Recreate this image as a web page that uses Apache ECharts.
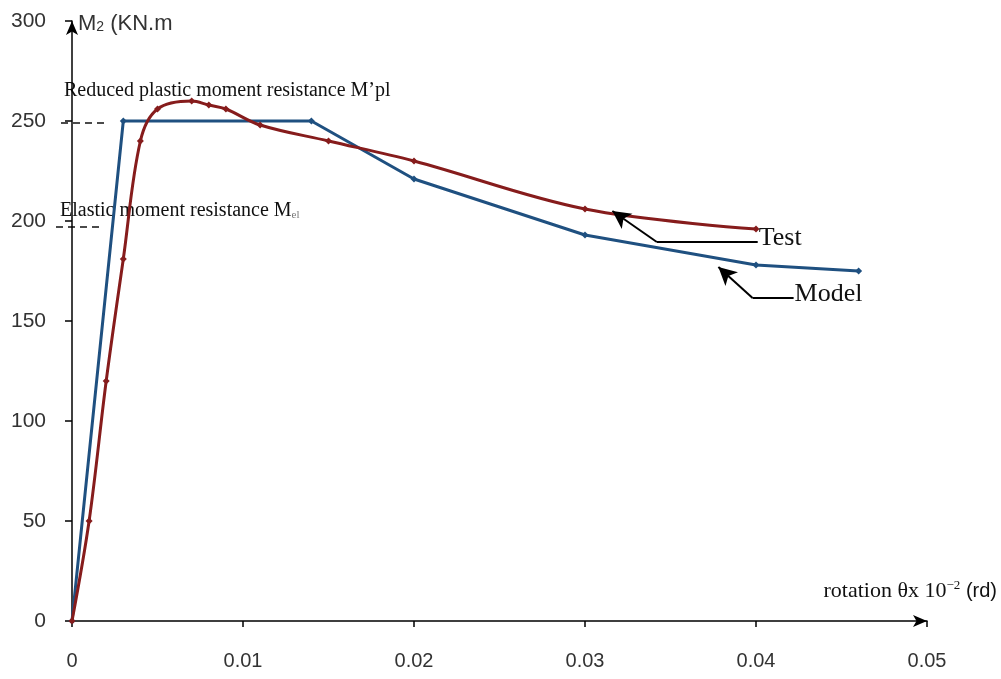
<!DOCTYPE html>
<html><head><meta charset="utf-8">
<script src="https://cdn.jsdelivr.net/npm/echarts@6/dist/echarts.min.js"></script>
<style>html,body{margin:0;padding:0;background:#fff}#c{width:1001px;height:679px}</style>
</head><body><div id="c"></div>
<script>
const modelPoints = [[0,0],[0.003,250],[0.014,250],[0.02,221],[0.03,193],[0.04,178],[0.046,175]];
const testPoints = [[0,0],[0.001,50],[0.002,120],[0.003,181],[0.004,240],[0.005,256],[0.007,260],[0.008,258],[0.009,256],[0.011,248],[0.015,240],[0.02,230],[0.03,206],[0.04,196]];
const xTicks = [0,0.01,0.02,0.03,0.04,0.05];
const yTicks = [0,50,100,150,200,250,300];
const plasticLevel = 249;
const elasticLevel = 197;

const chart = echarts.init(document.getElementById('c'));
const fontSans = '"Liberation Sans", Arial, sans-serif';
const fontSerif = '"Liberation Serif", "Times New Roman", serif';
const blue = '#1f5080';
const red = '#861c1c';

chart.setOption({
  animation:false,
  backgroundColor:'#fff',
  grid:{left:72,right:74,top:21,bottom:58},
  xAxis:{type:'value',min:0,max:0.05,interval:0.01,
    axisLine:{lineStyle:{color:'#000',width:1.5},symbol:['none','arrow'],symbolSize:[9,14]},
    axisTick:{show:true,length:6,lineStyle:{color:'#000',width:1.5}},
    splitLine:{show:false},
    axisLabel:{fontFamily:fontSans,fontSize:20,color:'#333',margin:30,
      formatter:v=>v===0?'0':v.toFixed(2)}},
  yAxis:{type:'value',min:0,max:300,interval:50,
    axisLine:{show:true,lineStyle:{color:'#000',width:1.5},symbol:['none','arrow'],symbolSize:[9,14]},
    axisTick:{show:true,length:7,lineStyle:{color:'#000',width:1.5}},
    splitLine:{show:false},
    axisLabel:{fontFamily:fontSans,fontSize:21,color:'#333',margin:26}},
  series:[
    {name:'Model',type:'line',data:modelPoints,smooth:false,symbol:'diamond',symbolSize:7,
      lineStyle:{color:blue,width:3},itemStyle:{color:blue},z:3},
    {name:'Test',type:'line',data:testPoints,smooth:0.35,symbol:'diamond',symbolSize:7,
      lineStyle:{color:red,width:3},itemStyle:{color:red},z:4},
    {name:'annot',type:'line',data:[],clip:false,silent:true,
      markLine:{silent:true,symbol:['none','none'],label:{show:false},animation:false,
        lineStyle:{color:'#000',type:'solid',width:2},
        data:[
          [{coord:[0.0401,189.5]},{coord:[0.0342,189.5]}],
          [{coord:[0.0342,189.5],symbol:'none'},{coord:[0.0316,205],symbol:'arrow',symbolSize:[14,18]}],
          [{coord:[0.0422,161.5]},{coord:[0.0398,161.5]}],
          [{coord:[0.0398,161.5],symbol:'none'},{coord:[0.0378,177],symbol:'arrow',symbolSize:[14,18]}]
        ]}}
  ]
});

function px(x,y){return chart.convertToPixel({gridIndex:0},[x,y]);}
const pPl = px(0, plasticLevel);
const pEl = px(0, elasticLevel);
const pTest = px(0.0401, 189.5);
const pModel = px(0.0422, 161.5);
chart.setOption({graphic:[
  {type:'line',shape:{x1:pPl[0]-11,y1:pPl[1],x2:pPl[0]+32,y2:pPl[1]},style:{stroke:'#111',lineWidth:1.5,lineDash:[7,5]}},
  {type:'line',shape:{x1:pEl[0]-16,y1:pEl[1],x2:pEl[0]+31,y2:pEl[1]},style:{stroke:'#111',lineWidth:1.5,lineDash:[7,5]}},
  {type:'text',left:78,top:13,style:{text:'{a|M}{b|2}{a| (KN.m}',rich:{a:{fontFamily:fontSans,fontSize:22,fill:'#333'},b:{fontFamily:fontSans,fontSize:14,fill:'#333',padding:[6,0,0,0]}}}},
  {type:'text',x:pPl[0]-8,y:pPl[1]-42,style:{text:'Reduced plastic moment resistance M\u2019pl',font:'20px '+fontSerif,fill:'#111'}},
  {type:'text',x:pEl[0]-12,y:pEl[1]-26,style:{text:'{a|Elastic moment resistance M}{b|el}',rich:{a:{fontFamily:fontSerif,fontSize:20,fill:'#111'},b:{fontFamily:fontSerif,fontSize:11,fill:'#777',padding:[9,0,0,0]}}}},
  {type:'text',x:pTest[0]+1,y:pTest[1]-17,style:{text:'Test',font:'26px '+fontSerif,fill:'#111'}},
  {type:'text',x:pModel[0]+1,y:pModel[1]-17,style:{text:'Model',font:'26px '+fontSerif,fill:'#111'}},
  {type:'text',right:4,top:579,style:{text:'{a|rotation \u03b8x 10}{s|\u22122}{b| (rd)}',rich:{a:{fontFamily:fontSerif,fontSize:22,fill:'#111'},s:{fontFamily:fontSerif,fontSize:13,fill:'#111',padding:[0,0,12,0]},b:{fontFamily:fontSans,fontSize:20,fill:'#111'}}}}
]});
</script></body></html>
